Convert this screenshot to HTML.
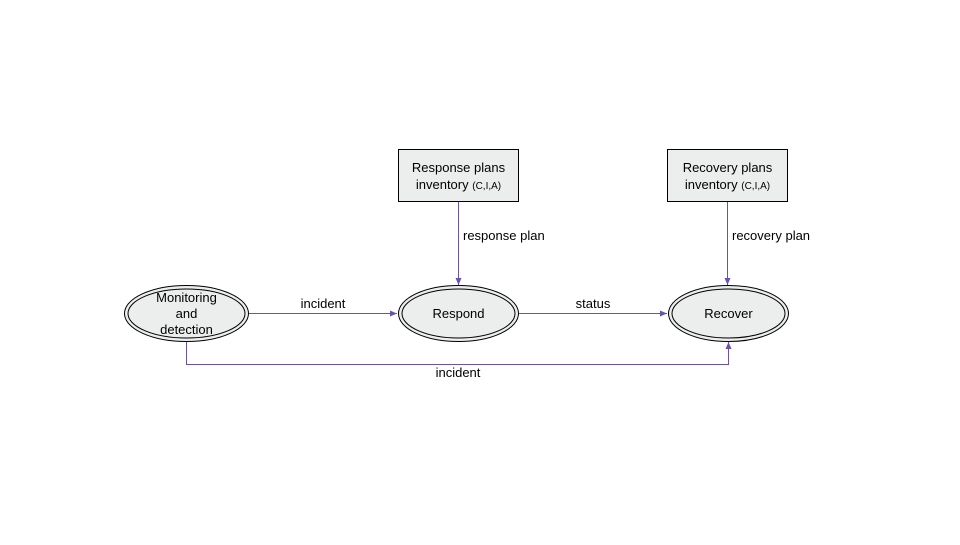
<!DOCTYPE html>
<html><head><style>body{margin:0;background:#fff}</style></head><body>
<svg width="960" height="540" xmlns="http://www.w3.org/2000/svg" font-family="Liberation Sans, sans-serif" font-size="13" fill="#000">
<defs><marker id="a" markerWidth="8" markerHeight="8" refX="7" refY="4" orient="auto" markerUnits="userSpaceOnUse"><path d="M0,1 L7,4 L0,7z" fill="#6a52b0"/></marker></defs>
<rect x="398.5" y="149.5" width="120" height="52" fill="#eceeee" stroke="#000"/>
<text x="458.5" y="172" text-anchor="middle">Response plans</text>
<text x="458.5" y="189" text-anchor="middle">inventory <tspan font-size="10">(C,I,A)</tspan></text>
<rect x="667.5" y="149.5" width="120" height="52" fill="#eceeee" stroke="#000"/>
<text x="727.5" y="172" text-anchor="middle">Recovery plans</text>
<text x="727.5" y="189" text-anchor="middle">inventory <tspan font-size="10">(C,I,A)</tspan></text>
<g fill="#eceeee" stroke="#000">
<ellipse cx="186.5" cy="313.5" rx="62" ry="28"/><ellipse cx="186.5" cy="313.5" rx="58.5" ry="24.5"/>
<ellipse cx="458.5" cy="313.5" rx="60" ry="28"/><ellipse cx="458.5" cy="313.5" rx="56.5" ry="24.5"/>
<ellipse cx="728.5" cy="313.5" rx="60" ry="28"/><ellipse cx="728.5" cy="313.5" rx="56.5" ry="24.5"/>
</g>
<text x="186.5" y="302" text-anchor="middle">Monitoring</text>
<text x="186.5" y="318" text-anchor="middle">and</text>
<text x="186.5" y="334" text-anchor="middle">detection</text>
<text x="458.5" y="318" text-anchor="middle">Respond</text>
<text x="728.5" y="318" text-anchor="middle">Recover</text>
<g stroke="#6a52b0" fill="none" stroke-width="1">
<line x1="458.5" y1="202" x2="458.5" y2="285" marker-end="url(#a)"/>
<line x1="727.5" y1="202" x2="727.5" y2="285" marker-end="url(#a)"/>
<line x1="249" y1="313.5" x2="397" y2="313.5" marker-end="url(#a)"/>
<line x1="519" y1="313.5" x2="667" y2="313.5" marker-end="url(#a)"/>
<polyline points="186.5,342 186.5,364.5 728.5,364.5 728.5,342" marker-end="url(#a)"/>
</g>
<text x="463" y="240">response plan</text>
<text x="732" y="240">recovery plan</text>
<text x="323" y="308" text-anchor="middle">incident</text>
<text x="593" y="308" text-anchor="middle">status</text>
<text x="458" y="377" text-anchor="middle">incident</text>
</svg>
</body></html>
